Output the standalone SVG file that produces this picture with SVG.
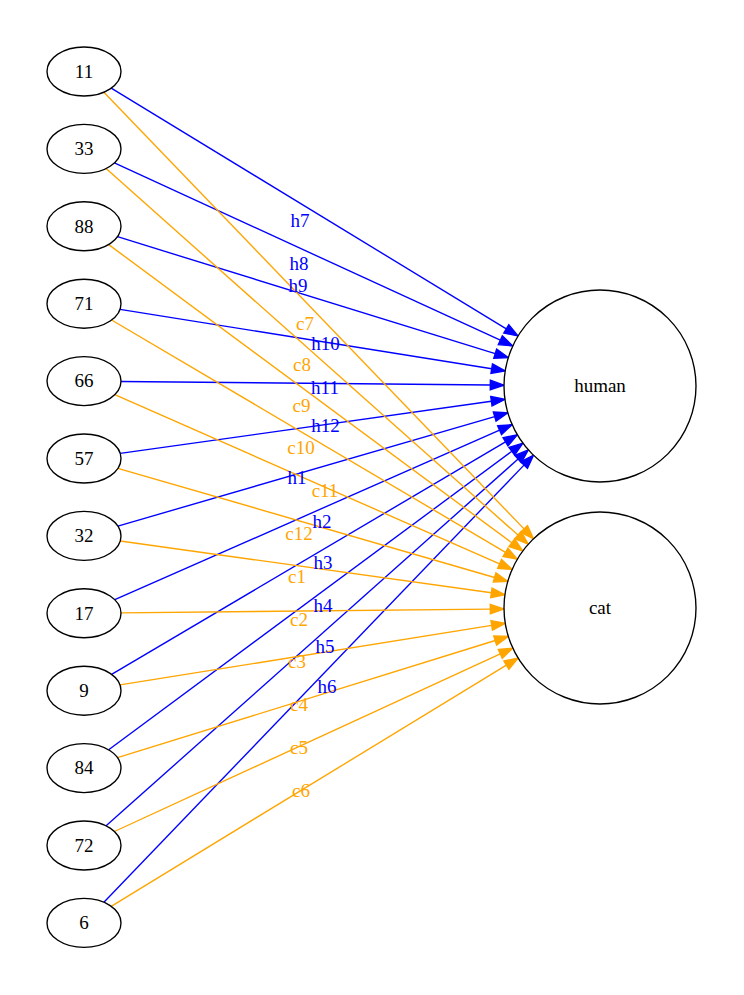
<svg xmlns="http://www.w3.org/2000/svg" width="744" height="995" viewBox="0 0 744 995">
  <style>
    .node ellipse { fill: #ffffff; stroke: #000000; stroke-width: 1.37; }
    .node text { font-family: "Liberation Serif", "Times New Roman", serif; font-size: 19px; text-anchor: middle; fill: #000000; }
    .e { fill: none; stroke-width: 1.37; }
    .h { stroke: #0000ff; marker-end: url(#arrowH); }
    .c { stroke: #ffa500; marker-end: url(#arrowC); }
    .lbl { font-family: "Liberation Serif", "Times New Roman", serif; font-size: 19px; text-anchor: middle; }
    .lh { fill: #0000ff; }
    .lc { fill: #ffa500; }
  </style>
  <defs>
    <marker id="arrowH" markerUnits="userSpaceOnUse" markerWidth="16" markerHeight="12" refX="0" refY="0" orient="auto" overflow="visible">
      <path d="M0,-4.8 L13.7,0 L0,4.8 Z" fill="#0000ff" stroke="#0000ff" stroke-width="1.37"/>
    </marker>
    <marker id="arrowC" markerUnits="userSpaceOnUse" markerWidth="16" markerHeight="12" refX="0" refY="0" orient="auto" overflow="visible">
      <path d="M0,-4.8 L13.7,0 L0,4.8 Z" fill="#ffa500" stroke="#ffa500" stroke-width="1.37"/>
    </marker>
  </defs>
  <rect x="0" y="0" width="744" height="995" fill="#ffffff"/>

  <g id="edges">
    <!-- edges into "human" -->
    <line class="e h" x1="111.2" y1="88.1" x2="506.3" y2="328.9"/>
    <line class="e h" x1="114.4" y1="162.9" x2="500.3" y2="340.2"/>
    <line class="e h" x1="117.5" y1="236.7" x2="495.2" y2="353.6"/>
    <line class="e h" x1="120.0" y1="309.4" x2="491.7" y2="368.7"/>
    <line class="e h" x1="121.0" y1="381.45" x2="490.3" y2="385.0"/>
    <line class="e h" x1="120.2" y1="453.4" x2="491.4" y2="401.3"/>
    <line class="e h" x1="117.9" y1="526.1" x2="494.7" y2="416.6"/>
    <line class="e h" x1="114.8" y1="599.7" x2="499.6" y2="430.2"/>
    <line class="e h" x1="111.6" y1="674.4" x2="505.5" y2="441.8"/>
    <line class="e h" x1="108.7" y1="749.8" x2="511.8" y2="451.3"/>
    <line class="e h" x1="106.1" y1="825.8" x2="518.1" y2="459.0"/>
    <line class="e h" x1="103.9" y1="902.2" x2="524.0" y2="465.1"/>
    <!-- edges into "cat" -->
    <line class="e c" x1="103.9" y1="92.2" x2="524.0" y2="528.9"/>
    <line class="e c" x1="106.1" y1="168.6" x2="518.0" y2="535.1"/>
    <line class="e c" x1="108.7" y1="244.6" x2="511.8" y2="542.8"/>
    <line class="e c" x1="111.6" y1="320.0" x2="505.5" y2="552.3"/>
    <line class="e c" x1="114.8" y1="394.7" x2="499.6" y2="563.9"/>
    <line class="e c" x1="117.9" y1="468.3" x2="494.6" y2="577.5"/>
    <line class="e c" x1="120.2" y1="541.0" x2="491.4" y2="592.8"/>
    <line class="e c" x1="121.0" y1="612.9" x2="490.3" y2="609.1"/>
    <line class="e c" x1="120.0" y1="684.9" x2="491.7" y2="625.4"/>
    <line class="e c" x1="117.5" y1="757.7" x2="495.2" y2="640.5"/>
    <line class="e c" x1="114.4" y1="831.5" x2="500.3" y2="653.9"/>
    <line class="e c" x1="111.2" y1="906.3" x2="506.4" y2="665.1"/>

    <!-- edge labels -->
    <text class="lbl lh" x="300" y="227">h7</text>
    <text class="lbl lh" x="299" y="270">h8</text>
    <text class="lbl lh" x="298" y="292">h9</text>
    <text class="lbl lh" x="325.5" y="350">h10</text>
    <text class="lbl lh" x="325" y="394">h11</text>
    <text class="lbl lh" x="325.5" y="432">h12</text>
    <text class="lbl lh" x="297" y="484">h1</text>
    <text class="lbl lh" x="322" y="528">h2</text>
    <text class="lbl lh" x="323" y="569">h3</text>
    <text class="lbl lh" x="323" y="612">h4</text>
    <text class="lbl lh" x="325" y="653">h5</text>
    <text class="lbl lh" x="327" y="693">h6</text>

    <text class="lbl lc" x="305" y="330">c7</text>
    <text class="lbl lc" x="302" y="371">c8</text>
    <text class="lbl lc" x="301.5" y="412">c9</text>
    <text class="lbl lc" x="301" y="454">c10</text>
    <text class="lbl lc" x="325" y="497">c11</text>
    <text class="lbl lc" x="299" y="540">c12</text>
    <text class="lbl lc" x="297" y="583">c1</text>
    <text class="lbl lc" x="299" y="626">c2</text>
    <text class="lbl lc" x="297" y="668">c3</text>
    <text class="lbl lc" x="299" y="711">c4</text>
    <text class="lbl lc" x="299" y="754">c5</text>
    <text class="lbl lc" x="301" y="797">c6</text>
  </g>

  <!-- source nodes -->
  <g id="n11" class="node"><ellipse cx="84" cy="71.5" rx="37" ry="24.5"/><text x="84" y="77.7">11</text></g>
  <g id="n33" class="node"><ellipse cx="84" cy="148.9" rx="37" ry="24.5"/><text x="84" y="155.1">33</text></g>
  <g id="n88" class="node"><ellipse cx="84" cy="226.3" rx="37" ry="24.5"/><text x="84" y="232.5">88</text></g>
  <g id="n71" class="node"><ellipse cx="84" cy="303.7" rx="37" ry="24.5"/><text x="84" y="309.9">71</text></g>
  <g id="n66" class="node"><ellipse cx="84" cy="381.1" rx="37" ry="24.5"/><text x="84" y="387.3">66</text></g>
  <g id="n57" class="node"><ellipse cx="84" cy="458.5" rx="37" ry="24.5"/><text x="84" y="464.7">57</text></g>
  <g id="n32" class="node"><ellipse cx="84" cy="535.9" rx="37" ry="24.5"/><text x="84" y="542.1">32</text></g>
  <g id="n17" class="node"><ellipse cx="84" cy="613.3" rx="37" ry="24.5"/><text x="84" y="619.5">17</text></g>
  <g id="n9" class="node"><ellipse cx="84" cy="690.7" rx="37" ry="24.5"/><text x="84" y="696.9">9</text></g>
  <g id="n84" class="node"><ellipse cx="84" cy="768.1" rx="37" ry="24.5"/><text x="84" y="774.3">84</text></g>
  <g id="n72" class="node"><ellipse cx="84" cy="845.5" rx="37" ry="24.5"/><text x="84" y="851.7">72</text></g>
  <g id="n6" class="node"><ellipse cx="84" cy="922.9" rx="37" ry="24.5"/><text x="84" y="929.1">6</text></g>

  <!-- target nodes -->
  <g id="human" class="node"><ellipse cx="600" cy="386" rx="96" ry="96"/><text x="600" y="392.3">human</text></g>
  <g id="cat" class="node"><ellipse cx="600" cy="608" rx="96" ry="96"/><text x="600" y="614">cat</text></g>
</svg>
